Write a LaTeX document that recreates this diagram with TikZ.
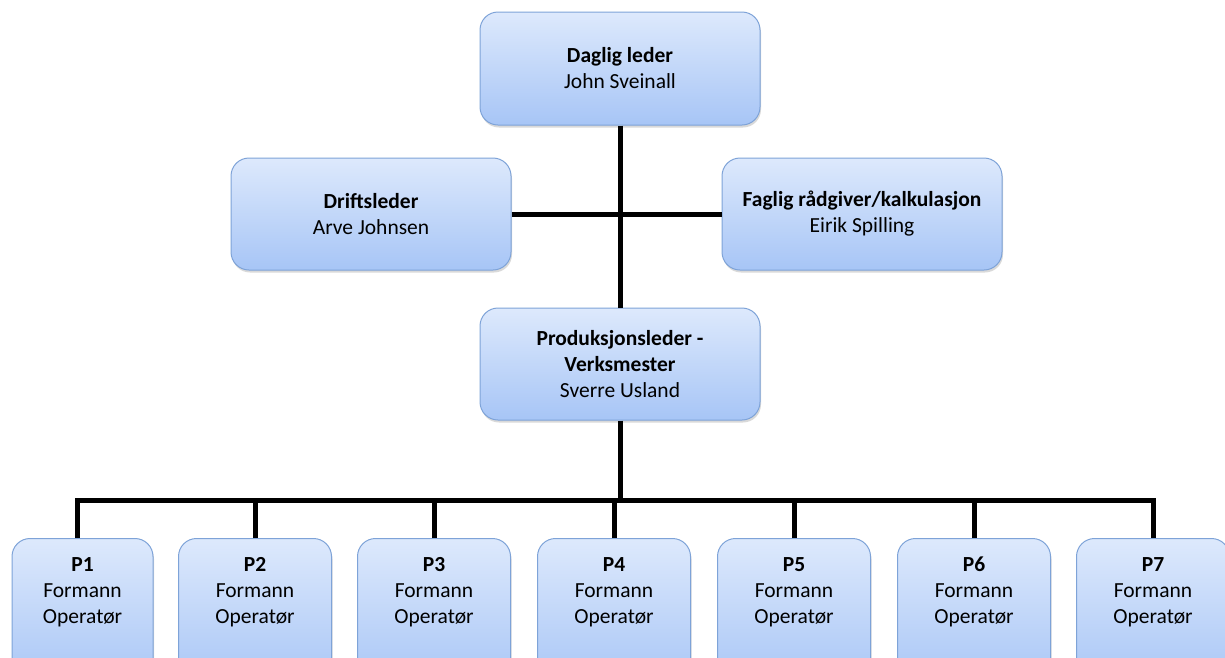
\documentclass[tikz,border=0pt]{standalone}
\usepackage{fontspec}
\setmainfont{Carlito}
\usetikzlibrary{shadows}
\definecolor{boxtop}{HTML}{DDE9FC}
\definecolor{boxbot}{HTML}{A7C5F6}
\definecolor{boxline}{HTML}{7EA3D8}
\tikzset{
  orgbox/.style={draw=boxline, line width=1pt, rounded corners=18pt, top color=boxtop, bottom color=boxbot,
    drop shadow={shadow xshift=1pt, shadow yshift=-2.5pt, opacity=0.25, fill=black!60},
    inner sep=0pt, align=center, font=\fontsize{21.5}{26}\selectfont},
  ptext/.style={align=center, font=\fontsize{21.5}{26}\selectfont, anchor=north, inner sep=0pt},
  conn/.style={line width=5pt, black}
}
\begin{document}
\begin{tikzpicture}[x=1pt,y=-1pt]
\useasboundingbox (0,0) rectangle (1225,657);
\clip (0,0) rectangle (1225,657);
\node[orgbox, minimum width=280, minimum height=113] (top) at (620,68.5) {\textbf{Daglig leder}\\John Sveinall};
\node[orgbox, minimum width=280, minimum height=112] (drift) at (371,214) {\textbf{Driftsleder}\\Arve Johnsen};
\node[orgbox, minimum width=280, minimum height=112] (fag) at (862,214) {\textbf{Faglig rådgiver/kalkulasjon}\\Eirik Spilling};
\node[orgbox, minimum width=280, minimum height=112] (prod) at (620,364) {\textbf{Produksjonsleder -}\\\textbf{Verksmester}\\Sverre Usland};
% P boxes
\node[orgbox, minimum width=141, minimum height=150, anchor=north] (p1) at (82.5,538) {};
\node[orgbox, minimum width=153, minimum height=150, anchor=north] (p2) at (255,538) {};
\node[orgbox, minimum width=153, minimum height=150, anchor=north] (p3) at (434,538) {};
\node[orgbox, minimum width=153, minimum height=150, anchor=north] (p4) at (614,538) {};
\node[orgbox, minimum width=153, minimum height=150, anchor=north] (p5) at (794,538) {};
\node[orgbox, minimum width=153, minimum height=150, anchor=north] (p6) at (974,538) {};
\node[orgbox, minimum width=153, minimum height=150, anchor=north] (p7) at (1153,538) {};
\foreach \i in {1,...,7}{
  \node[ptext] (p\i t) at ([yshift=-19pt]p\i.north) {\textbf{P\i}\\Formann\\Operatør};
}
% connectors
\coordinate (bus) at (620,500);
\draw[conn] (top.south) -- (prod.north);
\draw[conn] (drift.east) -- (fag.west);
\draw[conn] (prod.south) -- (bus);
\draw[conn, line join=miter] ([xshift=-5pt]p1.north) |- (bus) -| (p7.north);
\foreach \i in {2,...,6}{
  \draw[conn] (p\i.north) -- (p\i.north |- bus);
}
\end{tikzpicture}
\end{document}
